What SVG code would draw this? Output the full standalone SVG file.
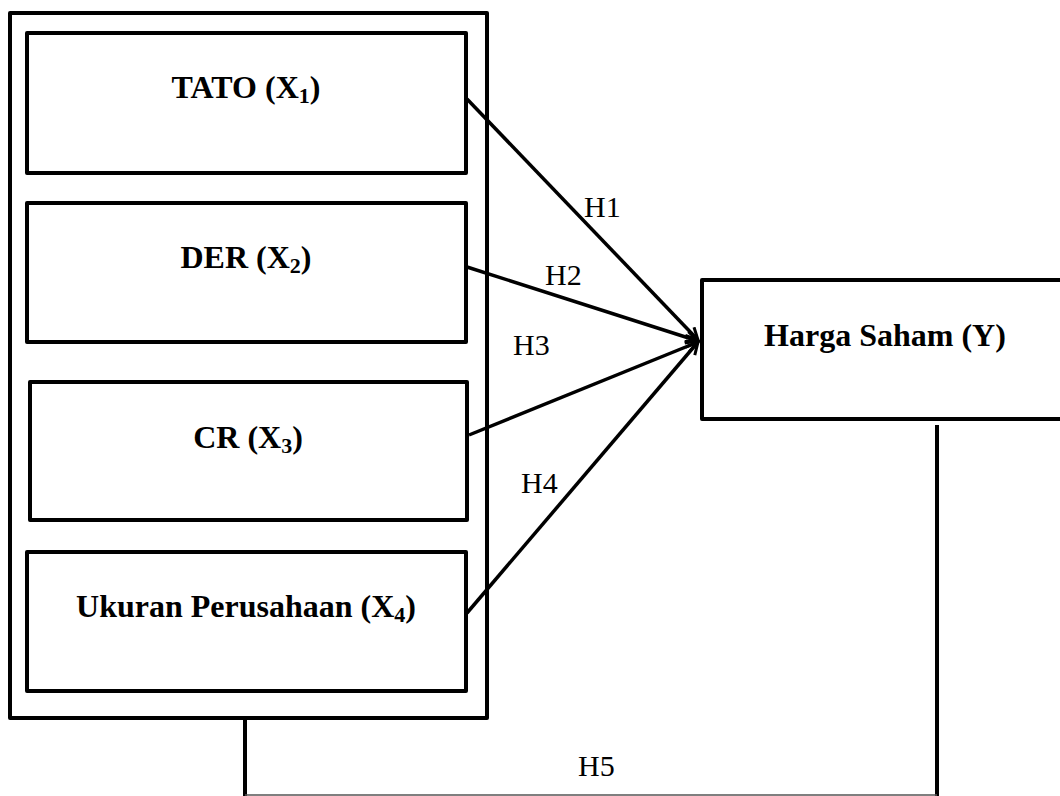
<svg xmlns="http://www.w3.org/2000/svg" width="1060" height="796" viewBox="0 0 1060 796">
<style>
.box{fill:#fff;stroke:#000;stroke-width:4;stroke-linejoin:round}
.outer{fill:none;stroke:#000;stroke-width:4;stroke-linejoin:round}
.t{font-family:"Liberation Serif","Times New Roman",serif;font-weight:bold;font-size:32px;fill:#000;text-anchor:middle}
.sub{font-size:22px}
.h{font-family:"Liberation Serif","Times New Roman",serif;font-size:30px;fill:#000}
.c{fill:none;stroke:#000;stroke-width:3.5}
.l{fill:none;stroke:#000;stroke-width:4}
</style>
<defs>
<marker id="arr" markerUnits="userSpaceOnUse" markerWidth="16" markerHeight="16" refX="13" refY="7" orient="auto">
<path d="M1,1 L13,7 L1,13" fill="none" stroke="#000" stroke-width="3" stroke-linejoin="miter"/>
</marker>
</defs>
<rect id="outer-group" class="outer" x="10" y="13" width="477" height="705"/>
<g id="x1">
<rect class="box" x="27" y="33" width="439" height="140"/>
<text class="t" x="246" y="98">TATO (X<tspan class="sub" dy="5">1</tspan><tspan dy="-5">)</tspan></text>
</g>
<g id="x2">
<rect class="box" x="27" y="203" width="439" height="139"/>
<text class="t" x="246" y="268">DER (X<tspan class="sub" dy="5">2</tspan><tspan dy="-5">)</tspan></text>
</g>
<g id="x3">
<rect class="box" x="30" y="382" width="437" height="138"/>
<text class="t" x="248" y="448">CR (X<tspan class="sub" dy="5">3</tspan><tspan dy="-5">)</tspan></text>
</g>
<g id="x4">
<rect class="box" x="27" y="552" width="439" height="139"/>
<text class="t" x="246" y="617">Ukuran Perusahaan (X<tspan class="sub" dy="5">4</tspan><tspan dy="-5">)</tspan></text>
</g>
<g id="y">
<rect class="box" x="702" y="280" width="380" height="139"/>
<text class="t" x="885" y="346">Harga Saham (Y)</text>
</g>
<g id="connectors">
<line class="c" x1="467" y1="99" x2="698" y2="340" marker-end="url(#arr)"/>
<line class="c" x1="467" y1="267" x2="698" y2="341" marker-end="url(#arr)"/>
<line class="c" x1="469" y1="435" x2="698" y2="342" marker-end="url(#arr)"/>
<line class="c" x1="467" y1="613" x2="698" y2="342" marker-end="url(#arr)"/>
<line class="l" x1="245" y1="718" x2="245" y2="796"/>
<line class="l" x1="937" y1="425" x2="937" y2="796"/>
<line x1="245" y1="795" x2="937" y2="795" stroke="#555" stroke-width="1.5"/>
</g>
<g id="labels">
<text class="h" x="584" y="217">H1</text>
<text class="h" x="545" y="285">H2</text>
<text class="h" x="513" y="355">H3</text>
<text class="h" x="521" y="493">H4</text>
<text class="h" x="578" y="776">H5</text>
</g>
</svg>
